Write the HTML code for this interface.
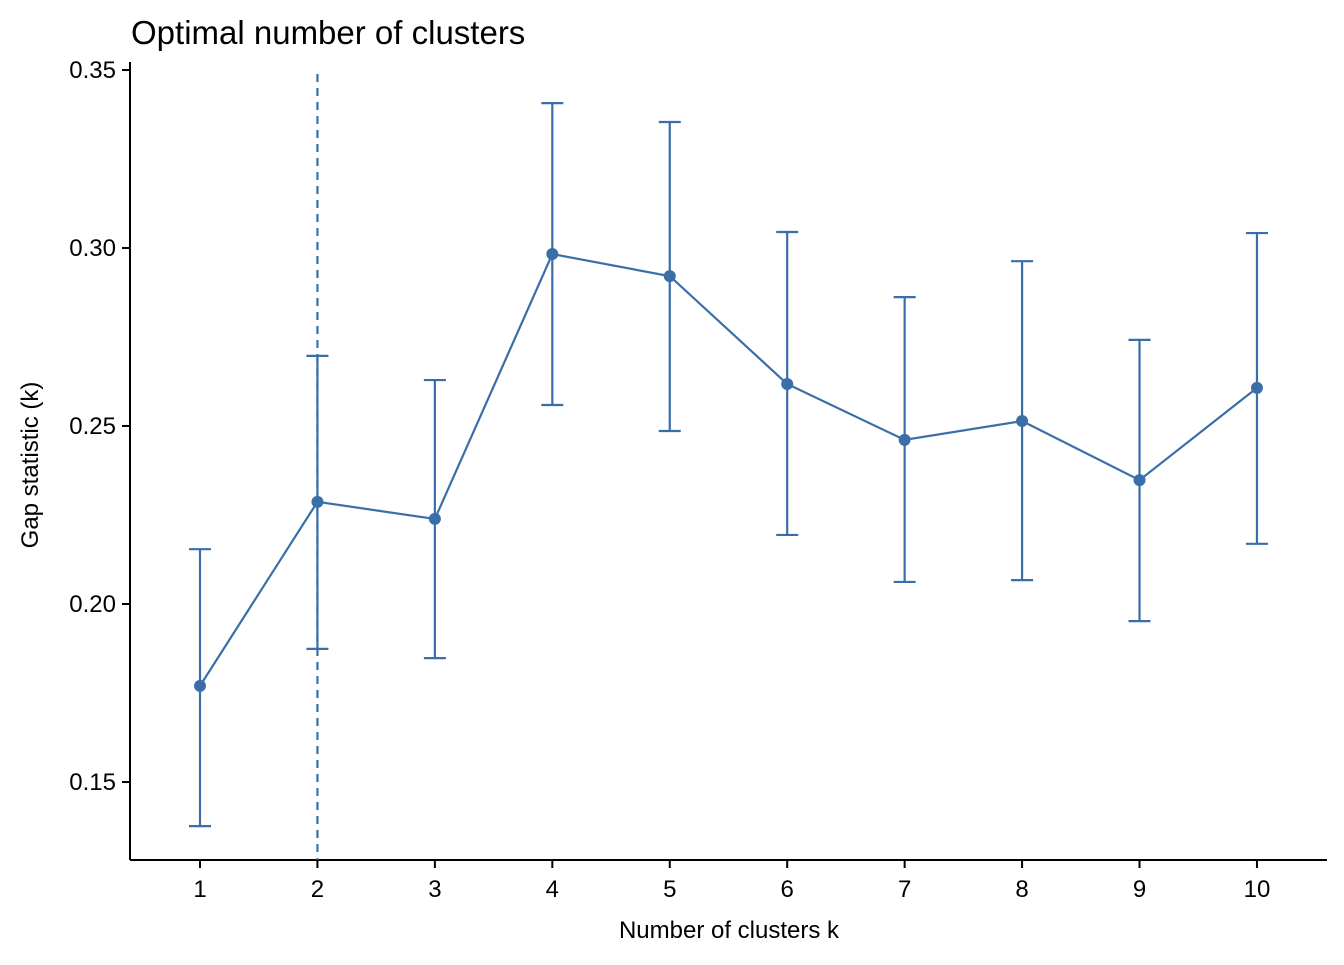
<!DOCTYPE html>
<html><head><meta charset="utf-8"><style>
body{margin:0;background:#fff;}
svg text{font-family:"Liberation Sans",Arial,sans-serif;fill:#000;}
</style></head><body>
<svg id="chart" width="1344" height="960">
<text x="131" y="44" font-size="33">Optimal number of clusters</text>
<g id="axes"></g>
<g id="marks"></g>
<text x="729" y="938" font-size="24" text-anchor="middle">Number of clusters k</text>
<text transform="translate(38,465) rotate(-90)" font-size="24" text-anchor="middle">Gap statistic (k)</text>
</svg>
<script>
const ks=[1,2,3,4,5,6,7,8,9,10];
const gap=[0.177,0.2287,0.2239,0.2983,0.2921,0.2618,0.2461,0.2514,0.2348,0.2607];
const ymin=[0.1376,0.1874,0.1848,0.2559,0.2486,0.2194,0.2062,0.2067,0.1952,0.2169];
const ymax=[0.2154,0.2697,0.2629,0.3407,0.3354,0.3045,0.2862,0.2963,0.2742,0.3042];
const yTicks=["0.15","0.20","0.25","0.30","0.35"];
const optimalK=2;
const C="#3a6ea8";
const NS="http://www.w3.org/2000/svg";
const xs=k=>200+(k-1)*117.44;
const ys=v=>70+(0.35-v)*3560;
function mk(tag,attrs,parent){const e=document.createElementNS(NS,tag);for(const a in attrs)e.setAttribute(a,attrs[a]);parent.appendChild(e);return e;}
const ax=document.getElementById('axes'),mg=document.getElementById('marks');
let l=mk('line',{x1:130,y1:860,x2:1327,y2:860,stroke:'#000','stroke-width':2},ax);


l=mk('line',{x1:130,y1:860,x2:130,y2:62,stroke:'#000','stroke-width':2},ax);


yTicks.forEach(t=>{const y=ys(parseFloat(t));
 let tk=mk('line',{x1:122,y1:y,x2:130,y2:y,stroke:'#000','stroke-width':2},ax);
 
 
 let tx=mk('text',{x:116,y:y+8,'font-size':24,'text-anchor':'end'},ax);tx.textContent=t;
 
 
});
ks.forEach(k=>{const x=xs(k);
 let tk=mk('line',{x1:x,y1:860,x2:x,y2:868,stroke:'#000','stroke-width':2},ax);
 
 
 let tx=mk('text',{x:x,y:897,'font-size':24,'text-anchor':'middle'},ax);tx.textContent=k;
 
 
});
let v=mk('line',{x1:xs(optimalK),y1:74,x2:xs(optimalK),y2:860,stroke:C,'stroke-width':2.2,'stroke-dasharray':'8,6'},mg);


ks.forEach((k,i)=>{const x=xs(k);
 const g=mk('path',{d:`M${x-11},${ys(ymax[i])}H${x+11}M${x},${ys(ymax[i])}V${ys(ymin[i])}M${x-11},${ys(ymin[i])}H${x+11}`,stroke:C,'stroke-width':2.2,fill:'none'},mg);
 
 
});
const p=mk('polyline',{points:ks.map((k,i)=>xs(k)+','+ys(gap[i])).join(' '),stroke:C,'stroke-width':2.2,fill:'none'},mg);


ks.forEach((k,i)=>{
 const c=mk('circle',{cx:xs(k),cy:ys(gap[i]),r:6,fill:C},mg);
 
 
});
</script>
</body></html>
